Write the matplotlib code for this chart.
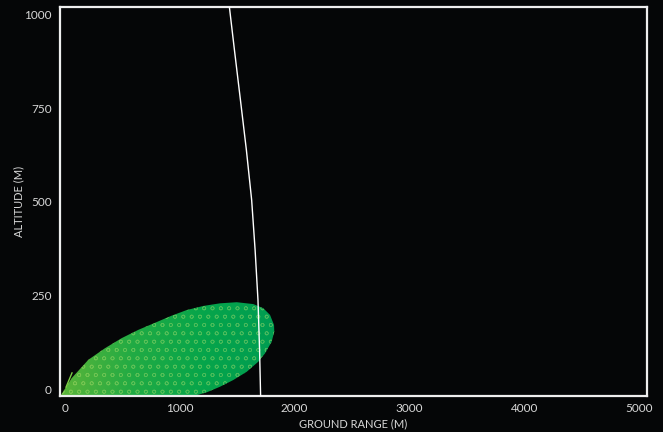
import numpy as np
import matplotlib
matplotlib.use("Agg")
import matplotlib.pyplot as plt
from matplotlib.path import Path
from matplotlib.patches import PathPatch
from matplotlib.colors import LinearSegmentedColormap

# Dispersion zone boundary (ground range m, altitude m);
# the lower part lies below the visible altitude range and is clipped
zone_range = [-35, 58, 203, 348, 494, 638, 784, 929, 1060, 1205, 1350, 1496,
              1640, 1727, 1786, 1821, 1823, 1800, 1742, 1684, 1583, 1466,
              1350, 1234, 1118, 1000, -60]
zone_alt = [-16, 29, 78, 109, 136, 158, 177, 196, 211, 222, 229, 232,
            227, 216, 198, 171, 153, 126, 95, 73, 46, 24,
            6, -9, -19, -40, -40]

# Descending trajectory line
traj_range = [1432, 1476, 1528, 1580, 1626, 1656, 1681, 1695, 1704]
traj_alt = [1021, 906, 773, 639, 505, 372, 238, 104, -19]

# Short launch segment
seg_range = [9, 61]
seg_alt = [5, 43]

x_ticks = [0, 1000, 2000, 3000, 4000, 5000]
y_ticks = [0, 250, 500, 750, 1000]

bg = "#050607"
txt = "#d8d8d8"
plt.rcParams['font.family'] = ['Lato', 'DejaVu Sans']
plt.rcParams['hatch.linewidth'] = 0.5

fig = plt.figure(figsize=(6.63, 4.32), dpi=100, facecolor=bg)
ax = fig.add_axes([60/663, 1-396/432, (647-60)/663, (396-7)/432])
ax.set_facecolor(bg)
ax.set_xlim(-43.6, 5070)
ax.set_ylim(-18.7, 1021)

path = Path(np.column_stack([zone_range, zone_alt]), closed=False)
patch = PathPatch(path, facecolor="none", edgecolor="none")
ax.add_patch(patch)
cmap = LinearSegmentedColormap.from_list("g", ["#5cb539", "#22ab44", "#06a54b", "#009c52"])
grad = np.linspace(0, 1, 256).reshape(1, -1)
im = ax.imshow(grad, extent=[-43, 1830, -200, 260], aspect="auto", cmap=cmap,
               origin="lower", zorder=1)
im.set_clip_path(patch)

hp = PathPatch(path, facecolor="none", edgecolor=(0.75, 0.9, 0.45, 0.35),
               linewidth=0, hatch="oo", zorder=2)
ax.add_patch(hp)

ax.plot(traj_range, traj_alt, color="white", lw=1.0, zorder=3)
ax.plot(seg_range, seg_alt, color="#7ccf45", lw=1.0, zorder=3)

ax.set_xticks(x_ticks)
ax.set_yticks(y_ticks)
ax.tick_params(length=0, colors=txt, labelsize=8.5)
ax.tick_params(axis="x", pad=5)
ax.tick_params(axis="y", pad=6)
for s in ax.spines.values():
    s.set_color("#eeeeee")
    s.set_linewidth(1.6)
ax.set_xlabel("GROUND RANGE (M)", color=txt, fontsize=8, labelpad=3)
ax.set_ylabel("ALTITUDE (M)", color=txt, fontsize=8, labelpad=0)

fig.savefig("out.png", dpi=100, facecolor=bg)
